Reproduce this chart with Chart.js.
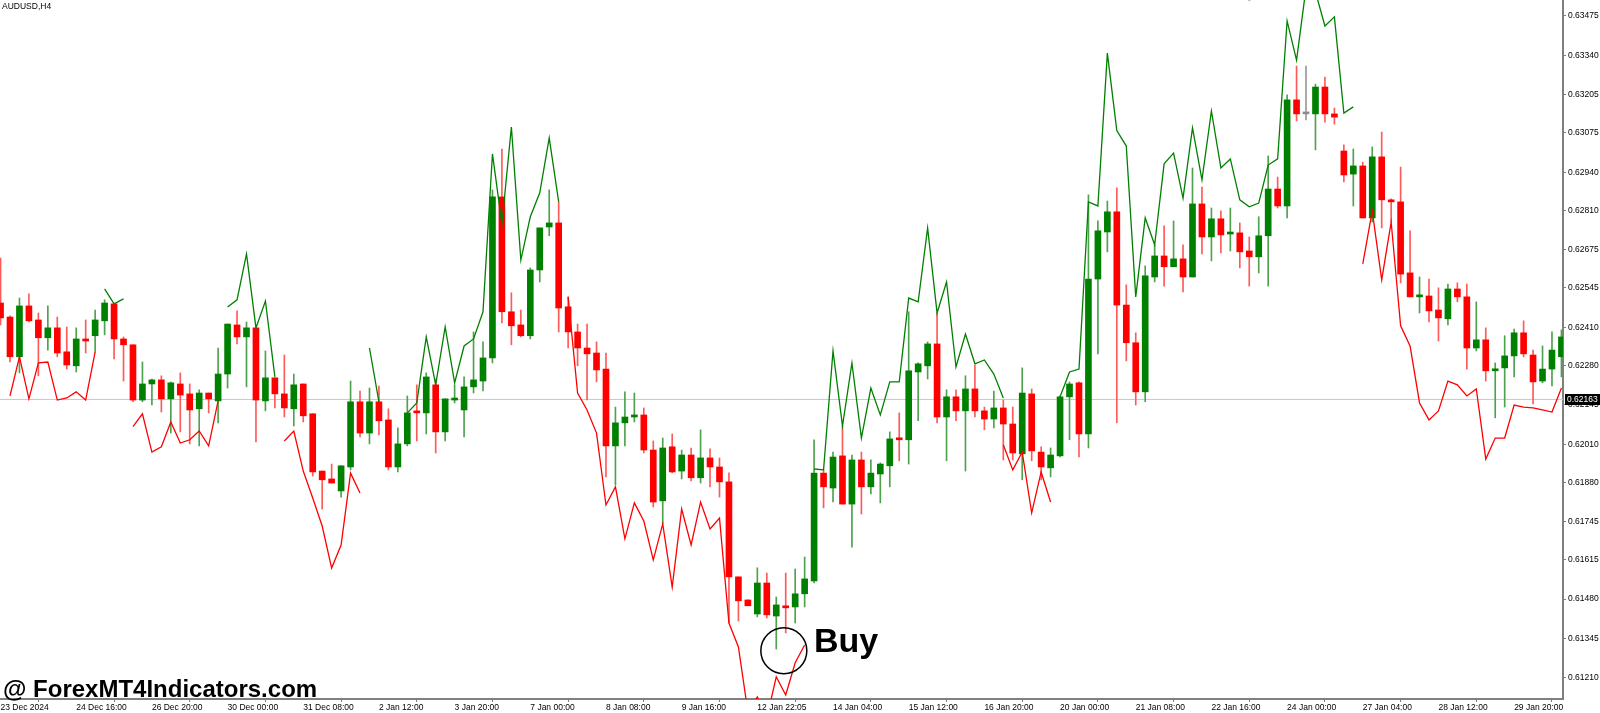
<!DOCTYPE html>
<html>
<head>
<meta charset="utf-8">
<script src="https://cdn.jsdelivr.net/npm/chart.js@4.4.1/dist/chart.umd.min.js"></script>
<style>
  html, body { margin: 0; padding: 0; background: #fff; }
  #wrap { position: relative; width: 1600px; height: 713px; }
</style>
</head>
<body>
<div id="wrap"><canvas id="chart" width="1600" height="713"></canvas></div>
<script>
// --- dados do gráfico (AUDUSD H4) ---
const symbolTitle = 'AUDUSD,H4';
const watermark = '@ ForexMT4Indicators.com';
const timeLabels = ['23 Dec 2024', '24 Dec 16:00', '26 Dec 20:00', '30 Dec 00:00', '31 Dec 08:00', '2 Jan 12:00',
  '3 Jan 20:00', '7 Jan 00:00', '8 Jan 08:00', '9 Jan 16:00', '12 Jan 22:05', '14 Jan 04:00', '15 Jan 12:00',
  '16 Jan 20:00', '20 Jan 00:00', '21 Jan 08:00', '22 Jan 16:00', '24 Jan 00:00', '27 Jan 04:00', '28 Jan 12:00', '29 Jan 20:00'];
const timeLabelStep = 8; // um rótulo a cada 8 barras
const priceTicks = [0.63475, 0.63340, 0.63205, 0.63075, 0.62940, 0.62810, 0.62675, 0.62545, 0.62410,
  0.62280, 0.62145, 0.62010, 0.61880, 0.61745, 0.61615, 0.61480, 0.61345, 0.61210];
const currentPrice = 0.62163;

const opens = [0.62493,0.62445,0.62309,0.62483,0.62435,0.62374,0.62408,0.62326,0.62278,0.62370,
0.62381,0.62432,0.62490,0.62370,0.62350,0.62161,0.62216,0.62230,0.62165,0.62216,
0.62182,0.62131,0.62185,0.62158,0.62250,0.62418,0.62377,0.62408,0.62158,0.62237,
0.62182,0.62131,0.62216,0.62114,0.61918,0.61891,0.61850,0.61932,0.62155,0.62048,
0.62155,0.62093,0.61932,0.62011,0.62120,0.62117,0.62213,0.62052,0.62161,0.62127,
0.62206,0.62226,0.62305,0.62856,0.62463,0.62418,0.62381,0.62606,0.62753,0.62767,
0.62480,0.62394,0.62339,0.62322,0.62267,0.62004,0.62083,0.62103,0.62110,0.61990,
0.61816,0.62001,0.61918,0.61973,0.61895,0.61963,0.61932,0.61881,0.61556,0.61477,
0.61429,0.61535,0.61422,0.61457,0.61453,0.61498,0.61542,0.61911,0.61860,0.61970,
0.61805,0.61956,0.61864,0.61908,0.61936,0.62028,0.62025,0.62257,0.62278,0.62353,
0.62103,0.62172,0.62124,0.62199,0.62124,0.62096,0.62134,0.62079,0.61977,0.62182,
0.61983,0.61929,0.61970,0.62172,0.62220,0.62045,0.62575,0.62736,0.62805,0.62486,
0.62357,0.62189,0.62582,0.62654,0.62617,0.62644,0.62582,0.62832,0.62719,0.62781,
0.62729,0.62733,0.62671,0.62651,0.62723,0.62883,0.62825,0.63188,0.63140,0.63140,
0.63232,0.63140,0.63013,0.62934,0.62962,0.62784,0.62993,0.62846,0.62839,0.62596,
0.62514,0.62517,0.62469,0.62439,0.62541,0.62514,0.62339,0.62367,0.62261,0.62271,
0.62312,0.62391,0.62315,0.62226,0.62267,0.62309];
const highs = [0.62647,0.62449,0.62510,0.62524,0.62459,0.62483,0.62445,0.62411,0.62408,0.62435,
0.62469,0.62504,0.62493,0.62377,0.62350,0.62291,0.62233,0.62244,0.62223,0.62254,
0.62216,0.62196,0.62185,0.62339,0.62421,0.62466,0.62428,0.62408,0.62329,0.62237,
0.62315,0.62250,0.62216,0.62114,0.61918,0.61942,0.61936,0.62226,0.62192,0.62202,
0.62209,0.62131,0.62066,0.62175,0.62213,0.62254,0.62233,0.62165,0.62213,0.62240,
0.62394,0.62360,0.62880,0.63020,0.62528,0.62469,0.62613,0.62750,0.62880,0.62839,
0.62514,0.62421,0.62421,0.62360,0.62322,0.62137,0.62189,0.62185,0.62134,0.62021,
0.62031,0.62045,0.61990,0.61997,0.62059,0.61994,0.61963,0.61912,0.61556,0.61477,
0.61587,0.61569,0.61487,0.61569,0.61583,0.61624,0.62025,0.61922,0.61983,0.62072,
0.61973,0.61983,0.61956,0.61946,0.62052,0.62117,0.62463,0.62288,0.62360,0.62459,
0.62196,0.62196,0.62244,0.62281,0.62137,0.62192,0.62161,0.62137,0.62271,0.62199,
0.62001,0.61997,0.62175,0.62223,0.62223,0.62863,0.62774,0.62842,0.62887,0.62555,
0.62391,0.62620,0.62692,0.62757,0.62774,0.62692,0.62955,0.62890,0.62818,0.62808,
0.62818,0.62767,0.62719,0.62788,0.62996,0.62924,0.63205,0.63304,0.63304,0.63242,
0.63266,0.63160,0.63034,0.63020,0.62975,0.63027,0.63078,0.62849,0.62958,0.62740,
0.62582,0.62575,0.62545,0.62558,0.62562,0.62558,0.62497,0.62408,0.62288,0.62381,
0.62404,0.62432,0.62332,0.62346,0.62394,0.62401];
const lows = [0.62418,0.62291,0.62254,0.62428,0.62244,0.62332,0.62309,0.62267,0.62257,0.62322,
0.62326,0.62384,0.62302,0.62226,0.62155,0.62155,0.62144,0.62120,0.62048,0.62052,
0.62011,0.62004,0.62117,0.62083,0.62202,0.62353,0.62206,0.62018,0.62124,0.62134,
0.62103,0.62072,0.62086,0.61901,0.61788,0.61877,0.61829,0.61922,0.62035,0.62011,
0.62042,0.61922,0.61915,0.62004,0.62021,0.62045,0.61980,0.62021,0.62151,0.62035,
0.62185,0.62192,0.62288,0.62425,0.62350,0.62377,0.62370,0.62565,0.62723,0.62394,
0.62339,0.62278,0.62161,0.62223,0.61898,0.61871,0.62004,0.62086,0.61980,0.61795,
0.61737,0.61912,0.61891,0.61884,0.61877,0.61864,0.61829,0.61398,0.61405,0.61457,
0.61419,0.61415,0.61309,0.61364,0.61398,0.61453,0.61535,0.61792,0.61812,0.61805,
0.61658,0.61771,0.61840,0.61809,0.61864,0.61953,0.61942,0.62090,0.62233,0.62083,
0.61953,0.62090,0.61918,0.62103,0.62059,0.62066,0.61956,0.61956,0.61888,0.61953,
0.61888,0.61898,0.61966,0.62025,0.61966,0.61997,0.62319,0.62668,0.62083,0.62295,
0.62144,0.62155,0.62565,0.62551,0.62617,0.62531,0.62582,0.62661,0.62637,0.62664,
0.62671,0.62613,0.62551,0.62596,0.62551,0.62818,0.62784,0.63116,0.63119,0.63017,
0.63112,0.63105,0.62907,0.62825,0.62784,0.62770,0.62750,0.62770,0.62562,0.62514,
0.62459,0.62428,0.62363,0.62418,0.62497,0.62267,0.62329,0.62226,0.62100,0.62137,
0.62240,0.62309,0.62148,0.62220,0.62209,0.62240];
const closes = [0.62442,0.62309,0.62483,0.62432,0.62374,0.62408,0.62322,0.62281,0.62370,0.62363,
0.62435,0.62493,0.62370,0.62350,0.62161,0.62216,0.62230,0.62165,0.62220,0.62178,
0.62127,0.62185,0.62165,0.62250,0.62421,0.62377,0.62408,0.62161,0.62237,0.62182,
0.62134,0.62213,0.62107,0.61915,0.61888,0.61877,0.61936,0.62155,0.62048,0.62155,
0.62090,0.61932,0.62011,0.62117,0.62117,0.62240,0.62052,0.62165,0.62165,0.62206,
0.62230,0.62305,0.62856,0.62463,0.62415,0.62381,0.62606,0.62750,0.62767,0.62476,
0.62394,0.62339,0.62319,0.62264,0.62004,0.62083,0.62103,0.62110,0.61990,0.61812,
0.61997,0.61915,0.61973,0.61895,0.61963,0.61932,0.61881,0.61556,0.61474,0.61457,
0.61535,0.61426,0.61460,0.61450,0.61498,0.61549,0.61911,0.61864,0.61966,0.61805,
0.61956,0.61864,0.61911,0.61942,0.62028,0.62025,0.62261,0.62285,0.62353,0.62103,
0.62172,0.62124,0.62199,0.62124,0.62096,0.62134,0.62079,0.61980,0.62185,0.61987,
0.61932,0.61973,0.62172,0.62216,0.62045,0.62575,0.62740,0.62805,0.62486,0.62357,
0.62189,0.62586,0.62654,0.62617,0.62644,0.62582,0.62832,0.62719,0.62781,0.62726,
0.62733,0.62668,0.62651,0.62723,0.62883,0.62825,0.63188,0.63140,0.63140,0.63232,
0.63140,0.63129,0.62931,0.62962,0.62784,0.62993,0.62846,0.62839,0.62592,0.62514,
0.62517,0.62466,0.62442,0.62541,0.62514,0.62339,0.62367,0.62261,0.62267,0.62312,
0.62391,0.62319,0.62223,0.62267,0.62332,0.62377];

// linhas do indicador (null = sem valor)
const gap = (k) => Array(k).fill(null);
const upperBand = [...gap(11), 0.62541,0.62490,0.62507, ...gap(10),
  0.62479,0.62504,0.62661,0.62408,0.62500,0.62240, ...gap(9), 0.62339,0.62155, ...gap(2),
  0.62117,0.62151,0.62377,0.62213,0.62411,0.62220,0.62346,0.62370,0.62463,0.63003,0.62764,0.63095,0.62640,0.62788,0.62870,0.63058,0.62839,
  ...gap(26),
  0.61925,0.61922,0.62329,0.62072,0.62288,0.62031,0.62202,0.62110,0.62223,0.62223,0.62510,0.62497,0.62750,0.62459,0.62565,0.62274,0.62387,0.62285,0.62298,0.62250,0.62168,
  ...gap(5),
  0.62172,0.62257,0.62267,0.62839,0.62825,0.63348,0.63083,0.63030,0.62514,0.62784,0.62692,0.62969,0.63006,0.62852,0.63092,0.62914,
  0.63150,0.62955,0.62986,0.62846,0.62822,0.62835,0.62965,0.62986,0.63458,0.63324,0.63571,0.63557,0.63441,0.63472,0.63143,0.63164,
  ...gap(22)];
const lowerBand = [...gap(1), 0.62175,0.62309,0.62165,0.62288,0.62291,0.62161,0.62168,0.62189,0.62161,0.62326, ...gap(3),
  0.62070,0.62114,0.61983,0.62001,0.62086,0.62014,0.62025,0.62055,0.62004,0.62158, ...gap(6),
  0.62021,0.62055,0.61918,0.61826,0.61730,0.61586,0.61665,0.61911,0.61843, ...gap(21),
  0.62514,0.62185,0.62127,0.62048,0.61802,0.61864,0.61686,0.61809,0.61747,0.61614,0.61737,0.61521,0.61788,
  0.61665,0.61812,0.61720,0.61757,0.61398,0.61316,0.61094,0.61145,0.61073,0.61214,0.61152,0.61262,0.61323,
  ...gap(20), 0.62008,0.61922,0.61983,0.61775,0.61915,0.61812, ...gap(32),
  0.62627,0.62808,0.62572,0.62770,0.62415,0.62346,0.62151,0.62093,0.62124,0.62226,0.62213,
  0.62175,0.62199,0.61959,0.62031,0.62031,0.62144,0.62137,0.62134,0.62127,0.62120,0.62202];

const buySignalBar = [82.8];
const buySignalPrice = [0.61303];
const markerBar = [132];
const markerPrice = [0.63545];

// faixa visível
const xMin = -0.057, xMax = 165.165;
const yMin = 0.611381, yMax = 0.635297;

const colorUp = '#008000';
const colorDown = '#ff0000';
const colorDoji = '#8c8c8c';
const fontAxis = { family: "'Liberation Sans', Arial, sans-serif", size: 8.5 };

const bars = opens.map((_, i) => i);
const bodyColors = bars.map(i => closes[i] > opens[i] ? colorUp : (closes[i] < opens[i] ? colorDown : colorDoji));
const wickColors = bars.map(i => closes[i] > opens[i] ? '#4ea24e' : (closes[i] < opens[i] ? '#ff5a5a' : '#999999'));

const overlayPlugin = {
  id: 'overlay',
  afterDraw(chart) {
    const ctx = chart.ctx;
    const area = chart.chartArea;
    const yPix = chart.scales.y.getPixelForValue(currentPrice);
    ctx.save();
    // etiqueta do preço atual
    ctx.fillStyle = '#000';
    ctx.fillRect(area.right + 2, Math.round(yPix) - 5, 35, 11);
    ctx.fillStyle = '#fff';
    ctx.font = `${fontAxis.size}px ${fontAxis.family}`;
    ctx.textBaseline = 'middle';
    ctx.fillText(currentPrice.toFixed(5), area.right + 4, yPix + 0.5);
    // título
    ctx.fillStyle = '#000';
    ctx.textBaseline = 'top';
    ctx.fillText(symbolTitle, 2, 2);
    // marca d'água e sinal
    ctx.textBaseline = 'alphabetic';
    ctx.font = "bold 24px 'Liberation Sans', Arial, sans-serif";
    ctx.fillText(watermark, 3, 697);
    ctx.font = "bold 34px 'Liberation Sans', Arial, sans-serif";
    ctx.fillText('Buy', 814, 652);
    ctx.restore();
  }
};

// remove o recuo automático que o Chart.js reserva para os rótulos das pontas
const noEdgePadding = (s) => { s.paddingTop = 0; s.paddingBottom = 0; s.paddingLeft = 0; s.paddingRight = 0; };

new Chart(document.getElementById('chart'), {
  type: 'bar',
  data: {
    datasets: [
      { type: 'line', data: [{ x: xMin, y: currentPrice }, { x: xMax, y: currentPrice }],
        borderColor: '#c8c8c8', borderWidth: 1, pointRadius: 0, order: 9 },
      { label: 'wicks', data: bars.map(i => ({ x: i, y: [lows[i], highs[i]] })),
        backgroundColor: wickColors, barThickness: 1, grouped: false, order: 4 },
      { label: 'bodies', data: bars.map(i => ({ x: i, y: [opens[i], closes[i]] })),
        backgroundColor: bodyColors, barThickness: 6, minBarLength: 2, grouped: false, order: 3 },
      { type: 'line', data: bars.map(i => ({ x: i, y: upperBand[i] })), borderColor: colorUp,
        borderWidth: 1.3, pointRadius: 0, tension: 0, spanGaps: false, order: 1 },
      { type: 'line', data: bars.map(i => ({ x: i, y: lowerBand[i] })), borderColor: colorDown,
        borderWidth: 1.3, pointRadius: 0, tension: 0, spanGaps: false, order: 1 },
      { type: 'scatter', data: buySignalBar.map((b, k) => ({ x: b, y: buySignalPrice[k] })),
        pointRadius: 23, borderColor: '#000', borderWidth: 1.5, backgroundColor: 'rgba(0,0,0,0)', order: 0 },
      { type: 'scatter', data: markerBar.map((b, k) => ({ x: b, y: markerPrice[k] })),
        pointStyle: 'rectRot', pointRadius: 6, borderWidth: 0, backgroundColor: '#b4b4b4', order: 0 }
    ]
  },
  options: {
    responsive: false, animation: false, devicePixelRatio: 1,
    layout: { padding: 0, autoPadding: false },
    plugins: { legend: { display: false }, tooltip: { enabled: false } },
    scales: {
      x: {
        type: 'linear', min: xMin, max: xMax, offset: false,
        grid: { drawOnChartArea: false, drawTicks: true, tickLength: 3, color: '#808080' },
        border: { display: true, color: '#808080', width: 2 },
        ticks: { align: 'start', autoSkip: false, maxRotation: 0, padding: 1, color: '#000', font: fontAxis,
          callback: (v, k) => timeLabels[k] },
        afterBuildTicks: (s) => { s.ticks = timeLabels.map((t, k) => ({ value: k * timeLabelStep })); },
        afterFit: (s) => { s.height = 14; noEdgePadding(s); }
      },
      y: {
        position: 'right', min: yMin, max: yMax,
        grid: { drawOnChartArea: false, drawTicks: true, tickLength: 3, color: '#808080' },
        border: { display: true, color: '#808080', width: 2 },
        ticks: { padding: 2, color: '#000', font: fontAxis, callback: (v) => Number(v).toFixed(5) },
        afterBuildTicks: (s) => { s.ticks = priceTicks.map(v => ({ value: v })); },
        afterFit: (s) => { s.width = 37; noEdgePadding(s); }
      }
    }
  },
  plugins: [overlayPlugin]
});
</script>
</body>
</html>
